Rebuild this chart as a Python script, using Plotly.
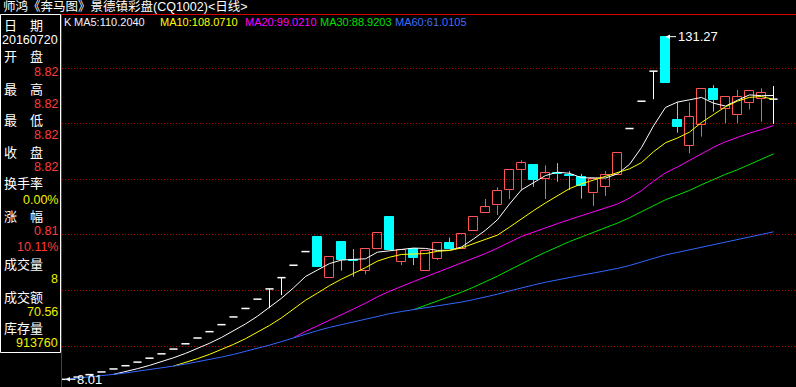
import plotly.graph_objects as go
import pandas as pd

W, H = 796, 387

# ---------------- data ----------------
title_text = "师鸿《奔马图》景德镇彩盘(CQ1002)<日线>"

opens = [8.01, 8.82, 9.70, 10.67, 11.74, 12.91, 14.20, 15.62, 17.18, 18.90,
         20.79, 22.87, 25.16, 27.68, 30.45, 33.50, 36.85, 40.54, 44.59, 49.05,
         53.96, 59.36, 44.3, 57.4, 50.8, 47.0, 55.0, 66.4, 50.3, 54.9,
         47.1, 51.4, 57.0, 55.0, 61.5, 67.7, 70.6, 76.0, 83.4, 85.0,
         80.2, 82.1, 81.6, 80.7, 74.9, 77.3, 81.6, 98.23, 108.05, 118.86,
         131.27, 101.3, 92.1, 99.4, 112.3, 105.2, 103.0, 107.3, 109.0, 108.8]
highs = [8.01, 8.82, 9.70, 10.67, 11.74, 12.91, 14.20, 15.62, 17.18, 18.90,
         20.79, 22.87, 25.16, 27.68, 30.45, 33.50, 36.85, 40.54, 44.59, 49.05,
         53.96, 59.36, 52.1, 57.4, 54.9, 54.8, 60.5, 66.4, 54.5, 54.9,
         54.2, 56.9, 59.0, 60.2, 66.3, 72.9, 77.1, 83.2, 86.8, 85.0,
         85.0, 85.8, 82.9, 81.9, 80.0, 82.9, 89.3, 98.23, 108.05, 118.86,
         131.27, 107.8, 107.6, 112.3, 113.8, 109.5, 112.1, 111.8, 112.7, 113.5]
lows = [8.01, 8.82, 9.70, 10.67, 11.74, 12.91, 14.20, 15.62, 17.18, 18.90,
        20.79, 22.87, 25.16, 27.68, 30.45, 33.50, 36.85, 33.6, 38.3, 49.05,
        53.96, 48.56, 44.3, 47.1, 44.9, 45.8, 55.0, 54.5, 49.1, 49.1,
        47.1, 50.9, 54.9, 55.0, 61.5, 67.7, 67.1, 72.8, 75.9, 77.3,
        72.9, 79.1, 76.1, 73.0, 70.4, 74.0, 81.6, 98.23, 108.05, 108.8,
        114.7, 96.7, 89.3, 95.3, 104.3, 100.1, 100.1, 105.1, 100.7, 99.9]
closes = [8.01, 8.82, 9.70, 10.67, 11.74, 12.91, 14.20, 15.62, 17.18, 18.90,
          20.79, 22.87, 25.16, 27.68, 30.45, 33.50, 36.85, 40.54, 44.59, 49.05,
          53.96, 48.56, 52.1, 50.9, 50.5, 54.8, 60.5, 54.5, 54.5, 51.8,
          54.2, 56.9, 54.9, 60.2, 66.3, 69.9, 75.75, 83.2, 85.7, 79.8,
          82.1, 81.8, 81.3, 77.6, 80.0, 81.4, 89.3, 98.23, 108.05, 118.86,
          114.7, 98.9, 102.3, 112.3, 108.5, 109.5, 109.5, 111.8, 110.9, 108.8]

grid_levels = [20, 40, 60, 80, 100, 120]

ma_labels = ["MA5:110.2040", "MA10:108.0710", "MA20:99.0210", "MA30:88.9203", "MA60:61.0105"]
ma_periods = [5, 10, 20, 30, 60]

panel_labels = ["日　期", "20160720", "开　盘", "8.82", "最　高", "8.82", "最　低", "8.82",
                "收　盘", "8.82", "换手率", "0.00%", "涨　幅", "0.81", "10.11%",
                "成交量", "8", "成交额", "70.56", "库存量", "913760"]
panel_kinds = ["L", "W", "L", "R", "L", "R", "L", "R", "L", "R", "L", "Y", "L", "R", "R",
               "L", "Y", "L", "Y", "L", "Y"]

max_label = "131.27"
min_label = "8.01"

# ---------------- styling ----------------
RED = "#ff5555"
CYAN = "#00ffff"
WHITE = "#ffffff"
MA_COLORS = ["#ffffff", "#ffff00", "#ff00ff", "#00e000", "#3366ff"]
MA_TEXT_COLORS = ["#f0f0ff", "#ffff00", "#ff00ff", "#00e000", "#3f6fff"]
LATIN = "Liberation Sans, Arial, Noto Sans CJK SC, sans-serif"
CJK = "Noto Sans CJK SC, sans-serif"

n = len(closes)
xs = list(range(n))
s = pd.Series(closes)
mas = []
for p in ma_periods:
    if p >= n:
        mas.append(s.rolling(p, min_periods=1).mean())
    else:
        mas.append(s.rolling(p).mean())

up = [i for i in xs if closes[i] > opens[i]]
dn = [i for i in xs if closes[i] < opens[i]]
fl = [i for i in xs if closes[i] == opens[i]]


def wicks(idx):
    wx, wy = [], []
    for i in idx:
        top = max(opens[i], closes[i])
        bot = min(opens[i], closes[i])
        if highs[i] > top:
            wx += [i, i, None]
            wy += [top, highs[i], None]
        if lows[i] < bot:
            wx += [i, i, None]
            wy += [lows[i], bot, None]
    return wx, wy


fig = go.Figure()

BW = 0.7
for idx, col in ((up, RED), (dn, CYAN), (fl, WHITE)):
    wx, wy = wicks(idx)
    fig.add_trace(go.Scatter(x=wx, y=wy, mode="lines", line=dict(color=col, width=1),
                             hoverinfo="skip"))

# flat (one-price / doji) candles: horizontal dash
fx, fy = [], []
for i in fl:
    fx += [i - 0.34, i + 0.34, None]
    fy += [closes[i], closes[i], None]
fig.add_trace(go.Scatter(x=fx, y=fy, mode="lines", line=dict(color=WHITE, width=1.5),
                         hoverinfo="skip"))

fig.add_trace(go.Bar(x=up, y=[closes[i] - opens[i] for i in up], base=[opens[i] for i in up],
                     width=BW, marker=dict(color="rgba(0,0,0,0)", line=dict(color=RED, width=1))))
fig.add_trace(go.Bar(x=dn, y=[opens[i] - closes[i] for i in dn], base=[closes[i] for i in dn],
                     width=BW, marker=dict(color=CYAN, line=dict(color=CYAN, width=1))))

for ma, col in zip(mas, MA_COLORS):
    fig.add_trace(go.Scatter(x=xs, y=ma, mode="lines", line=dict(color=col, width=1),
                             hoverinfo="skip"))


def PX(v):
    return v / W


def PY(v):
    return 1 - v / H


shapes = [
    dict(type="rect", xref="paper", yref="paper", x0=PX(0.5), x1=PX(60.5), y0=PY(14.5), y1=PY(352.5),
         line=dict(color=WHITE, width=1)),
    dict(type="line", xref="paper", yref="paper", x0=PX(61), x1=PX(796), y0=PY(14.5), y1=PY(14.5),
         line=dict(color="#e00000", width=1)),
    dict(type="line", xref="paper", yref="paper", x0=PX(61.5), x1=PX(61.5), y0=PY(14), y1=PY(387),
         line=dict(color="#e00000", width=1)),
]

ann = []
ann.append(dict(xref="paper", yref="paper", x=PX(1), y=PY(7), xanchor="left", yanchor="middle",
                text=title_text, showarrow=False, font=dict(family=LATIN, size=12.5, color=WHITE)))
ann.append(dict(xref="paper", yref="paper", x=PX(62), y=PY(22), xanchor="left", yanchor="middle",
                text="K", showarrow=False, font=dict(family=LATIN, size=11, color="#f0f0ff")))
ma_x = [72, 158, 243, 318, 393]
for t, xp, col in zip(ma_labels, ma_x, MA_TEXT_COLORS):
    ann.append(dict(xref="paper", yref="paper", x=PX(xp), y=PY(22), xanchor="left", yanchor="middle",
                    text=t, showarrow=False, font=dict(family=LATIN, size=11, color=col)))

row_y = [24, 40, 56, 72, 88, 104, 119, 135, 152, 167, 183, 200, 215, 231, 247, 263, 279, 296, 312, 327, 343]
kind_color = {"L": WHITE, "W": WHITE, "R": "#ff3a3a", "Y": "#f0f000"}
for t, k, yy in zip(panel_labels, panel_kinds, row_y):
    if k == "L":
        ann.append(dict(xref="paper", yref="paper", x=PX(2), y=PY(yy), xanchor="left", yanchor="middle",
                        text=t, showarrow=False, font=dict(family=CJK, size=13, color=WHITE)))
    else:
        ann.append(dict(xref="paper", yref="paper", x=PX(59.5), y=PY(yy), xanchor="right", yanchor="middle",
                        text=t, showarrow=False, font=dict(family=LATIN, size=12.5, color=kind_color[k])))

imax = highs.index(max(highs))
imin = lows.index(min(lows))
ann.append(dict(x=imax, y=highs[imax], xref="x", yref="y", text=max_label, showarrow=True,
                ax=32, ay=0, arrowhead=2, arrowsize=0.9, arrowwidth=1, arrowcolor=WHITE, standoff=0,
                font=dict(family=LATIN, size=13, color=WHITE)))
ann.append(dict(x=imin, y=lows[imin], xref="x", yref="y", text=min_label, showarrow=True,
                ax=24, ay=0, arrowhead=2, arrowsize=0.9, arrowwidth=1, arrowcolor=WHITE, standoff=0,
                font=dict(family=LATIN, size=13, color=WHITE)))

fig.update_layout(
    width=W, height=H, margin=dict(l=0, r=0, t=0, b=0),
    paper_bgcolor="black", plot_bgcolor="black",
    showlegend=False, barmode="overlay", bargap=0,
    shapes=shapes, annotations=ann,
    xaxis=dict(domain=[62 / W, 1], range=[-3.5 / 12, -3.5 / 12 + 734 / 12], visible=False, fixedrange=True),
    yaxis=dict(domain=[0, 373 / H], range=[120 - 319 / 2.78, 120 + 54 / 2.78],
               tickvals=grid_levels, showticklabels=False, ticks="",
               showgrid=True, gridcolor="#b00000", gridwidth=1, griddash="1px,2px",
               zeroline=False, showline=False, fixedrange=True),
    hovermode=False,
)

fig.write_html("out.html", config={"displayModeBar": False},
               post_script="document.body.style.margin='0';document.body.style.background='black';")
